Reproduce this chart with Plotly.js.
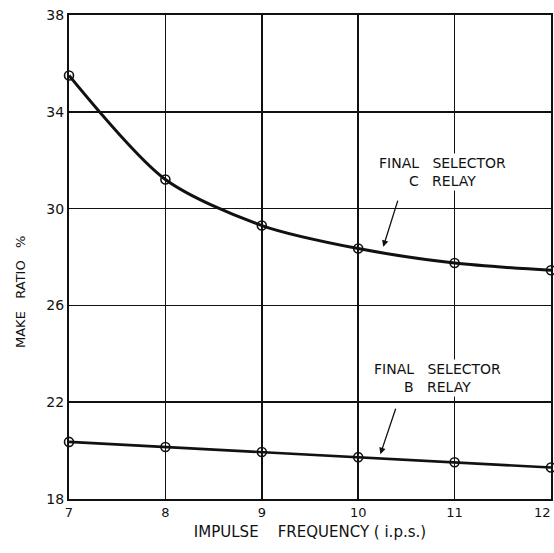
<!DOCTYPE html>
<html><head><meta charset="utf-8">
<script src="https://cdn.plot.ly/plotly-3.0.1.min.js"></script>
<style>html,body{margin:0;padding:0;background:#fff}</style>
</head><body>
<div id="chart" style="width:554px;height:553px"></div>
<script>
var freq = [7, 8, 9, 10, 11, 12];
var relayC = [35.5, 31.2, 29.3, 28.35, 27.75, 27.45];
var relayB = [20.36, 20.15, 19.94, 19.73, 19.52, 19.3];
var xTicks = [7, 8, 9, 10, 11, 12];
var yTicks = [18, 22, 26, 30, 34, 38];

var F = '"DejaVu Sans", Arial, sans-serif';
var marker = {symbol: 'circle-open', size: 9, color: '#111', line: {width: 1.6, color: '#111'}};
var traces = [
  {x: freq, y: relayC, mode: 'lines+markers', line: {color: '#111', width: 3, shape: 'spline', smoothing: 0.8}, marker: marker, cliponaxis: false, name: 'C'},
  {x: freq, y: relayB, mode: 'lines+markers', line: {color: '#111', width: 2.6}, marker: marker, cliponaxis: false, name: 'B'}
];
var lastTick = xTicks[xTicks.length - 1];
var layout = {
  width: 554, height: 553,
  margin: {l: 69, r: 3, t: 15, b: 54},
  paper_bgcolor: '#fff', plot_bgcolor: '#fff',
  showlegend: false,
  font: {family: F, color: '#111', size: 13},
  xaxis: {range: [7, 12], tickvals: xTicks, ticktext: xTicks.map(function (v) { return v === lastTick ? '' : String(v); }),
    showgrid: true, gridcolor: '#111', gridwidth: 1.6,
    zeroline: false, showline: true, linecolor: '#111', linewidth: 2, mirror: true, ticks: '', ticklen: 0,
    tickfont: {size: 13, family: F}, title: {text: 'IMPULSE    FREQUENCY ( i.p.s.)', font: {size: 15, family: F}, standoff: 8}},
  yaxis: {range: [18, 38], tickvals: yTicks, ticktext: yTicks.map(String), showgrid: true, gridcolor: '#111', gridwidth: 1.6,
    zeroline: false, showline: true, linecolor: '#111', linewidth: 2, mirror: true, ticks: '', ticklen: 0,
    tickfont: {size: 14, family: F}, title: {text: ''}},
  annotations: [
    {x: 0, y: 0, xref: 'paper', yref: 'paper', xanchor: 'center', yanchor: 'middle', text: 'MAKE   RATIO   %', textangle: -90, showarrow: false, font: {size: 13, family: F}},
    {x: 10.87, y: 31.5, xref: 'x', yref: 'y', text: 'FINAL   SELECTOR<br>C   RELAY', showarrow: false, font: {size: 14, family: F}, bgcolor: '#fff', align: 'center'},
    {x: 10.26, y: 28.42, xref: 'x', yref: 'y', text: ' ', showarrow: true, ax: 10.44, ay: 30.7, axref: 'x', ayref: 'y', arrowhead: 2, arrowsize: 1, arrowwidth: 1.3, arrowcolor: '#111'},
    {x: 10.82, y: 23.0, xref: 'x', yref: 'y', text: 'FINAL   SELECTOR<br>B   RELAY', showarrow: false, font: {size: 14, family: F}, bgcolor: '#fff', align: 'center'},
    {x: 10.23, y: 19.85, xref: 'x', yref: 'y', text: ' ', showarrow: true, ax: 10.42, ay: 22.1, axref: 'x', ayref: 'y', arrowhead: 2, arrowsize: 1, arrowwidth: 1.3, arrowcolor: '#111'},
    {x: 553, y: 512, xref: 'paper', yref: 'paper', xanchor: 'right', yanchor: 'middle', text: String(lastTick), showarrow: false, font: {size: 13, family: F}}
  ]
};
var pw = 554 - 69 - 3, ph = 553 - 15 - 54;
layout.annotations[0].x = (20 - 69) / pw;
layout.annotations[0].y = 1 - (292 - 15) / ph;
layout.annotations[5].x = (553 - 69) / pw;
layout.annotations[5].y = 1 - (512 - 15) / ph;
Plotly.newPlot('chart', traces, layout, {displayModeBar: false, staticPlot: true});
</script>
</body></html>
